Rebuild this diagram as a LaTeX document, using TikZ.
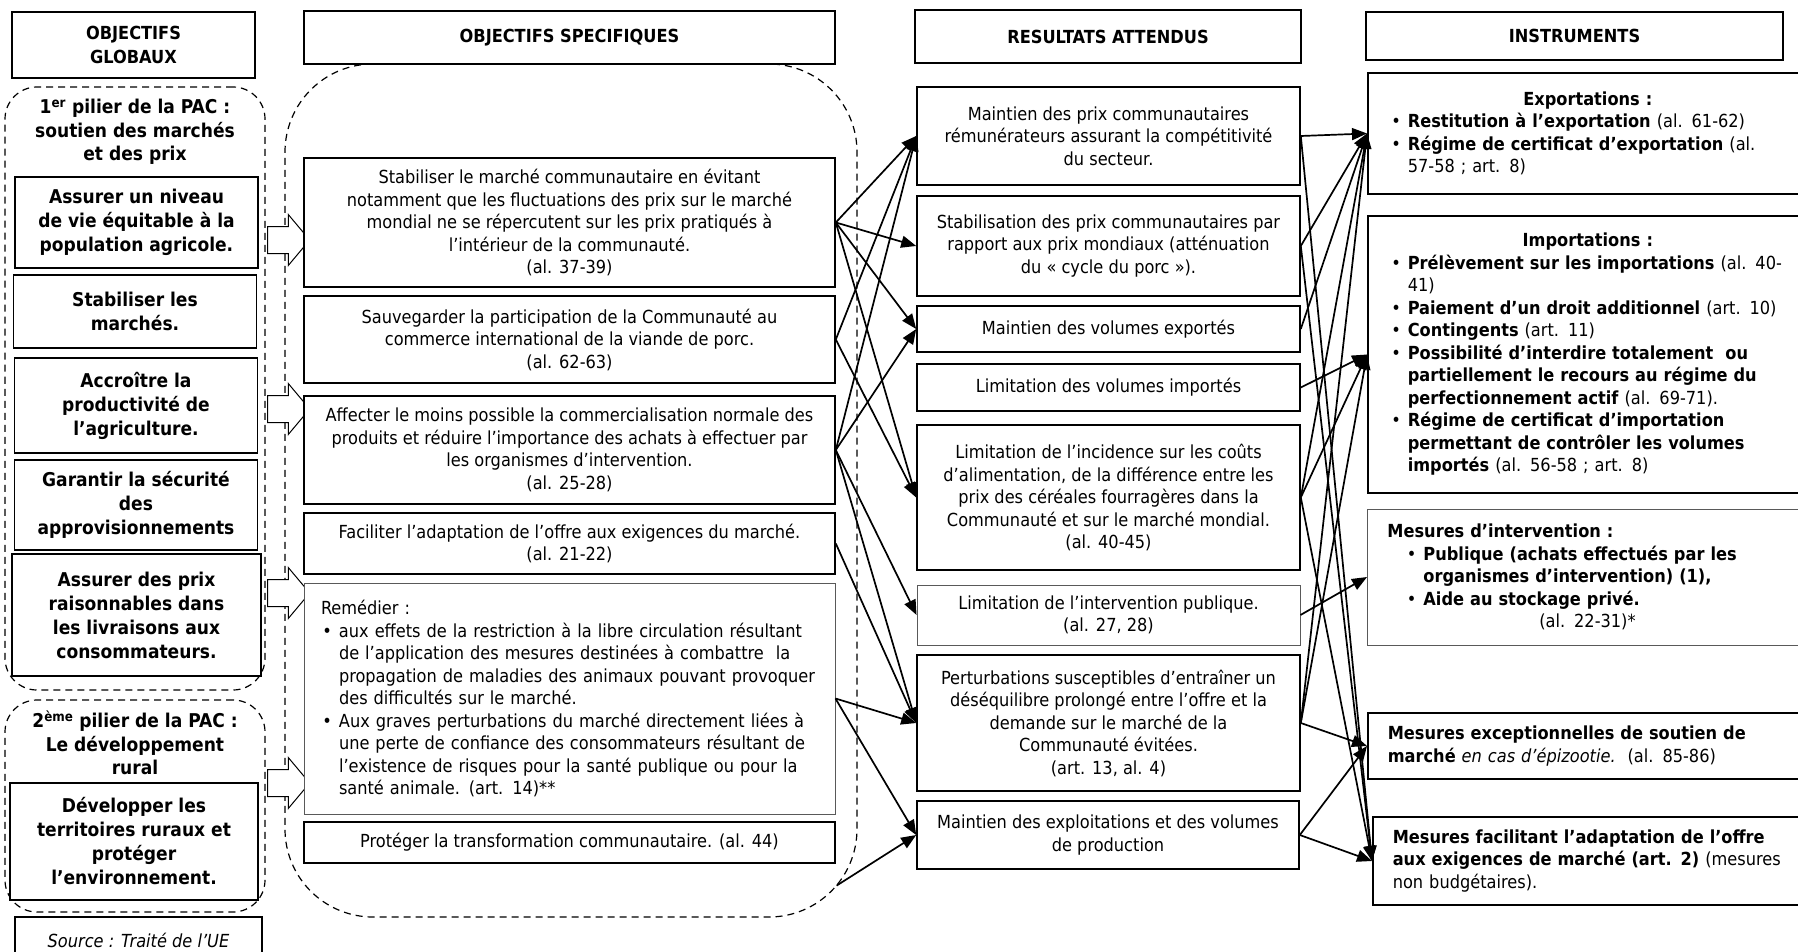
\documentclass[tikz,border=0pt]{standalone}
\usepackage{fontspec}
\setmainfont{DejaVu Sans Condensed}
\usetikzlibrary{arrows.meta, positioning, shapes.arrows}

\newcommand{\puce}{\par\noindent\llap{\textbullet\hspace{7pt}}}
\newcommand{\ligne}[2]{\makebox[#1][s]{#2}}
\newcommand{\titrebox}[1]{\noindent\makebox[400pt]{\textbf{#1}}\par}

\begin{document}
\begin{tikzpicture}[x=1pt, y=-1pt,
  every node/.style={font=\fontsize{18}{22.5}\selectfont, inner sep=0pt},
  hdr/.style={rectangle, draw, line width=1.6pt, fill=white,
              align=center, font=\fontsize{18}{24}\selectfont\bfseries},
  glob/.style={rectangle, draw, line width=1.6pt, fill=white,
               minimum width=243pt, align=center,
               font=\fontsize{19}{24}\selectfont\bfseries},
  pilier/.style={rectangle, draw, line width=1.2pt,
                 dash pattern=on 7pt off 5pt, rounded corners=32pt,
                 minimum width=260pt},
  titre/.style={align=center, font=\fontsize{19}{23.5}\selectfont\bfseries},
  objbox/.style={rectangle, draw, line width=1.6pt, fill=white,
                 minimum width=531pt, align=center},
  resbox/.style={rectangle, draw, line width=1.6pt, fill=white,
                 minimum width=383pt, align=center},
  insbox/.style={rectangle, draw, line width=1.6pt, fill=white, anchor=west,
                 text width=460pt, inner xsep=20pt, align=left},
  fin/.style={draw=black!65, line width=0.9pt},
  fleche/.style={single arrow, draw, line width=1pt, fill=white,
                 inner xsep=0pt, inner ysep=13pt,
                 minimum height=42pt, minimum width=50pt,
                 single arrow head extend=12pt, single arrow tip angle=100},
  lien/.style={-{Triangle[length=15pt, width=12pt]}, line width=1.7pt}
]
\useasboundingbox (0,0) rectangle (1798,952);

%% --- conteneurs en pointilles ---
\node[pilier, minimum height=603pt] (p1) at (135,388.5) {};
\node[pilier, minimum height=212pt] (p2) at (135,806) {};
\node[pilier, rounded corners=88pt, minimum width=572pt,
      minimum height=853pt] (grp) at (571,490.5) {};

%% --- en-tetes ---
\node[hdr, minimum width=243pt, minimum height=66pt] (hG) at (133.5,45) {OBJECTIFS\\GLOBAUX};
\node[hdr, minimum width=531pt, minimum height=53pt] (hS) at (569.5,37.5) {OBJECTIFS SPECIFIQUES};
\node[hdr, minimum width=386pt, minimum height=53pt] (hR) at (1108,36.5) {RESULTATS ATTENDUS};
\node[hdr, minimum width=417pt, minimum height=48pt] (hI) at (1574.5,36) {INSTRUMENTS};

%% --- objectifs globaux ---
\node[titre] (t1) at (135,132) {1\textsuperscript{er} pilier de la PAC :\\soutien des marchés\\et des prix};
\node[glob, minimum height=91pt]  (g1) at (136.5,222.5) {Assurer un niveau\\de vie équitable à la\\population agricole.};
\node[glob, minimum height=73pt]  (g2) at (135,311.5) {Stabiliser les\\marchés.};
\node[glob, minimum height=95pt]  (g3) at (136,405.5) {Accroître la\\productivité de\\l’agriculture.};
\node[glob, minimum height=90pt]  (g4) at (136,505) {Garantir la sécurité\\des\\approvisionnements};
\node[glob, minimum width=249pt, minimum height=122pt] (g5) at (136.5,615)
    {Assurer des prix\\raisonnables dans\\les livraisons aux\\consommateurs.};
\node[titre] (t2) at (135,743) {2\textsuperscript{ème} pilier de la PAC :\\Le développement\\rural};
\node[glob, minimum width=248pt, minimum height=117pt] (g6) at (134,841.5)
    {Développer les\\territoires ruraux et\\protéger\\l’environnement.};
\node[rectangle, draw, line width=1.6pt, minimum width=247pt, minimum height=46pt,
      font=\fontsize{18}{22}\selectfont\itshape] (src) at (138.5,940) {Source : Traité de l’UE};

\node[fleche] (f1) at (283,240) {};
\node[fleche] (f2) at (283,409) {};
\node[fleche] (f3) at (283,593) {};
\node[fleche] (f4) at (283,783) {};

%% --- objectifs specifiques ---
\node[objbox, minimum height=129pt] (A) at (569.5,222.5)
    {Stabiliser le marché communautaire en évitant\\notamment que les fluctuations des prix sur le marché\\mondial ne se répercutent sur les prix pratiqués à\\l’intérieur de la communauté.\\(al. 37-39)};
\node[objbox, minimum height=87pt] (B) at (569.5,339.5)
    {Sauvegarder la participation de la Communauté au\\commerce international de la viande de porc.\\(al. 62-63)};
\node[objbox, minimum height=108pt] (C) at (569.5,450)
    {Affecter le moins possible la commercialisation normale des\\produits et réduire l’importance des achats à effectuer par\\les organismes d’intervention.\\(al. 25-28)};
\node[objbox, minimum height=61pt] (D) at (569.5,543.5)
    {Faciliter l’adaptation de l’offre aux exigences du marché.\\(al. 21-22)};
\node[objbox, fin, minimum height=231pt, text width=497pt, inner xsep=17pt, align=left] (E) at (569.5,698.5)
    {Remédier :\par\leftskip=18pt
     \puce\ligne{479pt}{aux effets de la restriction à la libre circulation résultant}\\
     \ligne{479pt}{de l’application des mesures destinées à combattre\ \ la}\\
     \ligne{479pt}{propagation de maladies des animaux pouvant provoquer}\\
     des difficultés sur le marché.
     \puce\ligne{479pt}{Aux graves perturbations du marché directement liées à}\\
     \ligne{479pt}{une perte de confiance des consommateurs résultant de}\\
     \ligne{479pt}{l’existence de risques pour la santé publique ou pour la}\\
     santé animale. (art. 14)**\par};
\node[objbox, minimum height=41pt] (F) at (569.5,842.5)
    {Protéger la transformation communautaire. (al. 44)};

%% --- resultats attendus ---
\node[resbox, minimum height=98pt]  (R1) at (1108.5,136)
    {Maintien des prix communautaires\\rémunérateurs assurant la compétitivité\\du secteur.};
\node[resbox, minimum height=100pt] (R2) at (1108.5,246)
    {Stabilisation des prix communautaires par\\rapport aux prix mondiaux (atténuation\\du « cycle du porc »).};
\node[resbox, minimum height=46pt]  (R3) at (1108.5,329) {Maintien des volumes exportés};
\node[resbox, minimum height=47pt]  (R4) at (1108.5,387.5) {Limitation des volumes importés};
\node[resbox, minimum height=145pt] (R5) at (1108.5,497.5)
    {Limitation de l’incidence sur les coûts\\d’alimentation, de la différence entre les\\prix des céréales fourragères dans la\\Communauté et sur le marché mondial.\\(al. 40-45)};
\node[resbox, fin, minimum height=60pt] (R6) at (1108.5,615)
    {Limitation de l’intervention publique.\\(al. 27, 28)};
\node[resbox, minimum height=136pt] (R7) at (1108.5,723)
    {Perturbations susceptibles d’entraîner un\\déséquilibre prolongé entre l’offre et la\\demande sur le marché de la\\Communauté évitées.\\(art. 13, al. 4)};
\node[resbox, minimum width=382pt, minimum height=68pt] (R8) at (1108,835)
    {Maintien des exploitations et des volumes\\de production};

%% --- instruments ---
\node[insbox, minimum height=121pt] (I1) at (1367,133.5)
    {\titrebox{Exportations :}\leftskip=20pt
     \puce\textbf{Restitution à l’exportation} (al. 61-62)
     \puce\textbf{Régime de certificat d’exportation} (al.\\57-58 ; art. 8)\par};
\node[insbox, minimum height=277pt] (I2) at (1367,354.5)
    {\titrebox{Importations :}\leftskip=20pt
     \puce\textbf{Prélèvement sur les importations} (al. 40-\\41)
     \puce\textbf{Paiement d’un droit additionnel} (art. 10)
     \puce\textbf{Contingents} (art. 11)
     \puce\textbf{Possibilité d’interdire totalement\ \ ou\\partiellement le recours au régime du\\perfectionnement actif} (al. 69-71).
     \puce\textbf{Régime de certificat d’importation\\permettant de contrôler les volumes\\importés} (al. 56-58 ; art. 8)\par};
\node[insbox, fin, minimum height=136pt] (I3) at (1367,577)
    {\textbf{Mesures d’intervention :}\par\leftskip=36pt
     \puce\ligne{367pt}{\textbf{Publique (achats effectués par les}}\\\textbf{organismes d’intervention) (1),}
     \puce\textbf{Aide au stockage privé.}\par\leftskip=0pt
     \noindent\makebox[400pt]{(al. 22-31)*}\par};
\node[insbox, minimum height=66pt] (I4) at (1367,746)
    {\textbf{Mesures exceptionnelles de soutien de}\\\textbf{marché} \textit{en cas d’épizootie.}\ \ (al. 85-86)};
\node[insbox, minimum height=88pt] (I5) at (1372,861)
    {\textbf{Mesures facilitant l’adaptation de l’offre}\\\textbf{aux exigences de marché (art. 2)} (mesures\\non budgétaires).};

%% --- liens objectifs -> resultats ---
\draw[lien] (A.east) -- (R1.west);
\draw[lien] (A.east) -- (R2.west);
\draw[lien] (A.east) -- (R3.west);
\draw[lien] (A.east) -- (R5.west);
\draw[lien] (B.east) -- (R1.west);
\draw[lien] (B.east) -- (R5.west);
\draw[lien] (C.east) -- (R1.west);
\draw[lien] (C.east) -- (R3.west);
\draw[lien] (C.east) -- (R6.west);
\draw[lien] (C.east) -- (R7.west);
\draw[lien] (D.east) -- (R7.west);
\draw[lien] (E.east) -- (R7.west);
\draw[lien] (E.east) -- (R8.west);
\coordinate (sortie) at ([xshift=-21pt, yshift=32pt]grp.south east);
\draw[lien] (sortie) -- (R8.west);

%% --- liens resultats -> instruments ---
\draw[lien] (R1.east) -- (I1.west);
\draw[lien] (R1.east) -- (I5.west);
\draw[lien] (R2.east) -- (I1.west);
\draw[lien] (R2.east) -- (I5.west);
\draw[lien] (R3.east) -- (I1.west);
\draw[lien] (R4.east) -- (I2.west);
\draw[lien] (R5.east) -- (I1.west);
\draw[lien] (R5.east) -- (I2.west);
\draw[lien] (R5.east) -- (I5.west);
\draw[lien] (R6.east) -- (I3.west);
\draw[lien] (R7.east) -- (I1.west);
\draw[lien] (R7.east) -- (I2.west);
\draw[lien] (R7.east) -- (I4.west);
\draw[lien] (R8.east) -- (I4.west);
\draw[lien] (R8.east) -- (I5.west);

\end{tikzpicture}
\end{document}
